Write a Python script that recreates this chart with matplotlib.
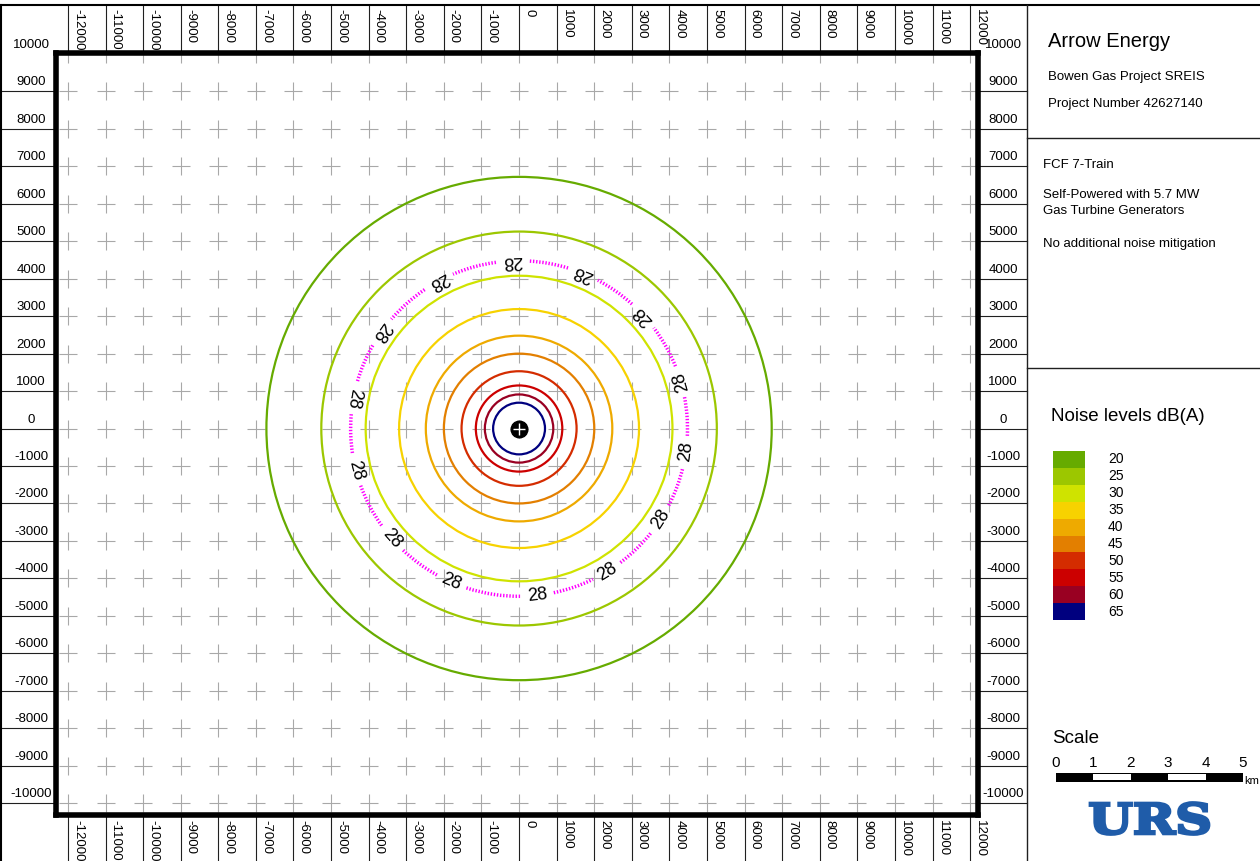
import numpy as np
import matplotlib.pyplot as plt
from matplotlib import transforms
from matplotlib.patches import Circle, Arc, Rectangle, PathPatch
from matplotlib.textpath import TextPath
from matplotlib.font_manager import FontProperties

plt.rcParams['font.family'] = ['Liberation Sans', 'DejaVu Sans']

# noise contour levels dB(A), their colours and ring radius (km)
levels = [20, 25, 30, 35, 40, 45, 50, 55, 60, 65]
level_colors = ['#66ab00', '#9cc700', '#cfe300', '#f7d200', '#eeaa00',
                '#e37f00', '#d42c00', '#cc0000', '#990022', '#00007f']
ring_radius_km = [6.72, 5.26, 4.08, 3.19, 2.48, 2.00, 1.53, 1.15, 0.91, 0.69]

# 28 dB(A) criterion contour and where its labels sit (degrees, ccw from east)
crit_level = 28
crit_radius_km = 4.48
crit_label_angles = [92.4, 118.6, 144.8, 169.6, 194.4, 221.0, 246.3,
                     276.4, 301.5, 327.2, 352.0, 16.3, 42.4, 67.6]

x_ticks = np.arange(-12000, 12001, 1000)
y_ticks = np.arange(-10000, 10001, 1000)

header_title = "Arrow Energy"
header_lines = ["Bowen Gas Project SREIS", "Project Number 42627140"]
scenario_lines = ["FCF 7-Train", "Self-Powered with 5.7 MW", "Gas Turbine Generators",
                  "No additional noise mitigation"]
scale_km = [0, 1, 2, 3, 4, 5]

W, H = 1260, 861
fig = plt.figure(figsize=(W / 100, H / 100), dpi=100)

# ---- map frame (pixel box of the original layout) ----
left, right, top, bottom = 55.5, 978.3, 53.3, 815.0
ax = fig.add_axes([left / W, 1 - bottom / H, (right - left) / W, (bottom - top) / H], zorder=1)
ax.set_xlim(-12330, 12215)
ax.set_ylim(-10320, 10020)
ax.set_xticks([])
ax.set_yticks([])
for sp in ax.spines.values():
    sp.set_linewidth(4)
    sp.set_color('black')

# overlay in pixel coordinates for margins / side panel
ov = fig.add_axes([0, 0, 1, 1], zorder=0)
ov.set_xlim(0, W)
ov.set_ylim(H, 0)
ov.axis('off')

# grid crosses
gx, gy = np.meshgrid(x_ticks, y_ticks)
ax.plot(gx.ravel(), gy.ravel(), '+', ms=13, mew=0.8, color='#a8a8a8', zorder=1)

# noise rings
for r, c in zip(ring_radius_km, level_colors):
    ax.add_patch(Circle((0, 0), r * 1000, fill=False, ec=c, lw=1.6, zorder=2))

# 28 dB(A) contour, broken where labels go
gap = 5.5
ang = sorted(crit_label_angles)
d = crit_radius_km * 2000
for a0, a1 in zip(ang, ang[1:] + [ang[0] + 360]):
    ax.add_patch(Arc((0, 0), d, d, theta1=a0 + gap, theta2=a1 - gap,
                     ec='#ff00ff', lw=2.5, ls=(0, (0.4, 0.5)), zorder=2))
for a in crit_label_angles:
    t = np.radians(a)
    ax.text(crit_radius_km * 1000 * np.cos(t), crit_radius_km * 1000 * np.sin(t),
            str(crit_level), rotation=a + 90, rotation_mode='anchor',
            ha='center', va='center', fontsize=13, zorder=4)

# source marker
ax.plot(0, 0, 'o', ms=12, color='black', zorder=5)
ax.plot(0, 0, '+', ms=9, mew=1, color='white', zorder=6)

# ---- margins: coordinate labels ----
tx = transforms.blended_transform_factory(ax.transData, ov.transData)
ty = transforms.blended_transform_factory(ov.transData, ax.transData)
tx_lab = transforms.offset_copy(tx, fig=fig, x=4, units='dots')
ty_lab = transforms.offset_copy(ty, fig=fig, y=3, units='dots')
tick_kw = dict(color='#202020', lw=0.8)

for xv in x_ticks:
    ov.plot([xv, xv], [5, top], transform=tx, **tick_kw)
    ov.plot([xv, xv], [bottom, H], transform=tx, **tick_kw)
    ov.text(xv, 9, str(xv), transform=tx_lab, rotation=-90, ha='left', va='top', fontsize=9.5)
    ov.text(xv, 820, str(xv), transform=tx_lab, rotation=-90, ha='left', va='top', fontsize=9.5)

for yv in y_ticks:
    if yv < 10000:
        ov.plot([0, left], [yv, yv], transform=ty, **tick_kw)
        ov.plot([right, 1027], [yv, yv], transform=ty, **tick_kw)
    ov.text(31, yv, str(yv), transform=ty_lab, ha='center', va='bottom', fontsize=9.5)
    ov.text(1003, yv, str(yv), transform=ty_lab, ha='center', va='bottom', fontsize=9.5)

# outer frame
ov.plot([0, W], [5, 5], color='black', lw=1.5)
ov.plot([1, 1], [5, H], color='black', lw=1.5)
ov.plot([1027, 1027], [5, H], color='#202020', lw=1)
ov.plot([1027, W], [138, 138], color='#202020', lw=1)
ov.plot([1027, W], [368, 368], color='#202020', lw=1)

# ---- side panel text ----
ov.text(1048, 47, header_title, fontsize=14.5, va='baseline')
for s, yb in zip(header_lines, [80, 107]):
    ov.text(1048, yb, s, fontsize=9.5, va='baseline')
for s, yb in zip(scenario_lines, [168, 198, 214, 247]):
    ov.text(1043, yb, s, fontsize=9.5, va='baseline')

# legend
ov.text(1051, 421, "Noise levels dB(A)", fontsize=13.5, va='baseline')
row_h = 16.9
for i, (lv, c) in enumerate(zip(levels, level_colors)):
    y0 = 451 + i * row_h
    ov.add_patch(Rectangle((1053, y0), 32, row_h, fc=c, ec='none'))
    ov.text(1108, y0 + row_h / 2, str(lv), fontsize=10, va='center', ha='left')

# scale bar
ov.text(1052, 743, "Scale", fontsize=13.5, va='baseline')
px_km = 37.4
bx0 = 1056
for k in scale_km:
    ov.text(bx0 + k * px_km, 767, str(k), fontsize=11, ha='center', va='baseline')
ov.add_patch(Rectangle((bx0, 772.5), px_km * scale_km[-1], 9, fc='black', ec='none'))
for k in scale_km[1:-1:2]:
    ov.add_patch(Rectangle((bx0 + k * px_km, 774.2), px_km, 5.6, fc='white', ec='none'))
ov.text(1244, 784, "km", fontsize=8, va='baseline')

# URS logo
tp = TextPath((0, 0), "URS", size=1, prop=FontProperties(family='DejaVu Serif', weight='bold'))
ext = tp.get_extents()
tr = (transforms.Affine2D().translate(-ext.x0, -ext.y0)
      .scale(119 / ext.width, -32 / ext.height).translate(1090, 834.5))
ov.add_patch(PathPatch(tr.transform_path(tp), fc='#1f5ca9', ec='#1f5ca9', lw=2))

fig.savefig('out.png', dpi=100)
